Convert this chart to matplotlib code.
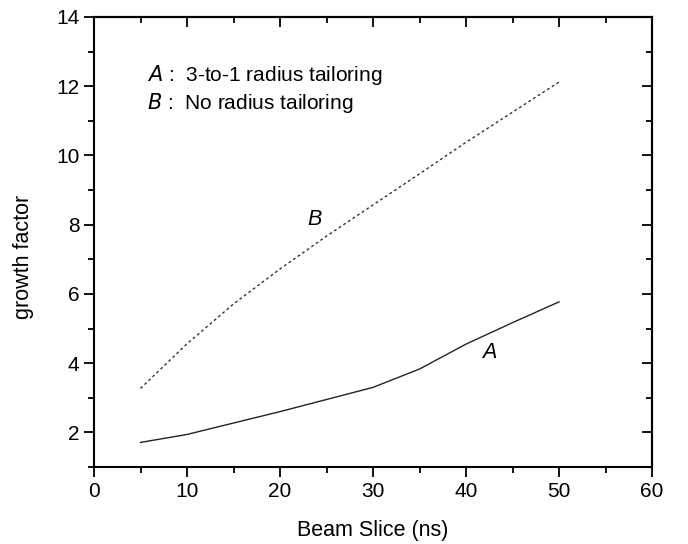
import matplotlib.pyplot as plt
from matplotlib.ticker import MultipleLocator

plt.rcParams['font.family'] = ['Liberation Sans', 'DejaVu Sans']

# beam slice (ns)
beam_slice = [5, 10, 15, 20, 25, 30, 35, 40, 45, 50]
# A: 3-to-1 radius tailoring
growth_a = [1.71, 1.94, 2.27, 2.60, 2.95, 3.30, 3.83, 4.55, 5.17, 5.77]
# B: no radius tailoring
growth_b = [3.27, 4.56, 5.71, 6.72, 7.67, 8.57, 9.47, 10.38, 11.25, 12.12]

fig = plt.figure(figsize=(6.88, 5.44), dpi=100)
ax = fig.add_axes([94 / 688, 1 - 467 / 544, 558 / 688, 450 / 544])

ax.plot(beam_slice, growth_a, color='#222222', lw=1.0, ls='-')
ax.plot(beam_slice, growth_b, color='#333333', lw=1.0, ls=(0, (2, 2)))

ax.set_xlim(0, 60)
ax.set_ylim(1, 14)
ax.xaxis.set_major_locator(MultipleLocator(10))
ax.xaxis.set_minor_locator(MultipleLocator(5))
ax.set_yticks([2, 4, 6, 8, 10, 12, 14])
ax.yaxis.set_minor_locator(MultipleLocator(1))
# left / bottom ticks point outward
ax.tick_params(which='both', direction='out', labelsize=15, width=1.3)
ax.tick_params(which='major', length=7)
ax.tick_params(which='minor', length=4)

# top / right ticks point inward
top = ax.secondary_xaxis('top')
top.xaxis.set_major_locator(MultipleLocator(10))
top.xaxis.set_minor_locator(MultipleLocator(5))
right = ax.secondary_yaxis('right')
right.yaxis.set_major_locator(MultipleLocator(2))
right.yaxis.set_minor_locator(MultipleLocator(1))
for sec in (top, right):
    sec.tick_params(which='both', direction='in', labeltop=False, labelright=False, width=1.3)
    sec.tick_params(which='major', length=7)
    sec.tick_params(which='minor', length=4)
    for s in sec.spines.values():
        s.set_linewidth(1.5)
for s in ax.spines.values():
    s.set_linewidth(1.5)

ax.set_xlabel('Beam Slice (ns)', fontsize=15.5, labelpad=14)
ax.set_ylabel('growth factor', fontsize=15.5)
ax.yaxis.set_label_coords(-0.107, 0.467)

ax.text(5.65, 12.32, r'$\it{A}$ :  3-to-1 radius tailoring', fontsize=15, va='center')
ax.text(5.65, 11.51, r'$\it{B}$ :  No radius tailoring', fontsize=15, va='center')
ax.text(23.7, 8.15, 'B', fontsize=15.5, style='italic', ha='center', va='center')
ax.text(42.5, 4.32, 'A', fontsize=15.5, style='italic', ha='center', va='center')

fig.savefig('out.png', dpi=100)
